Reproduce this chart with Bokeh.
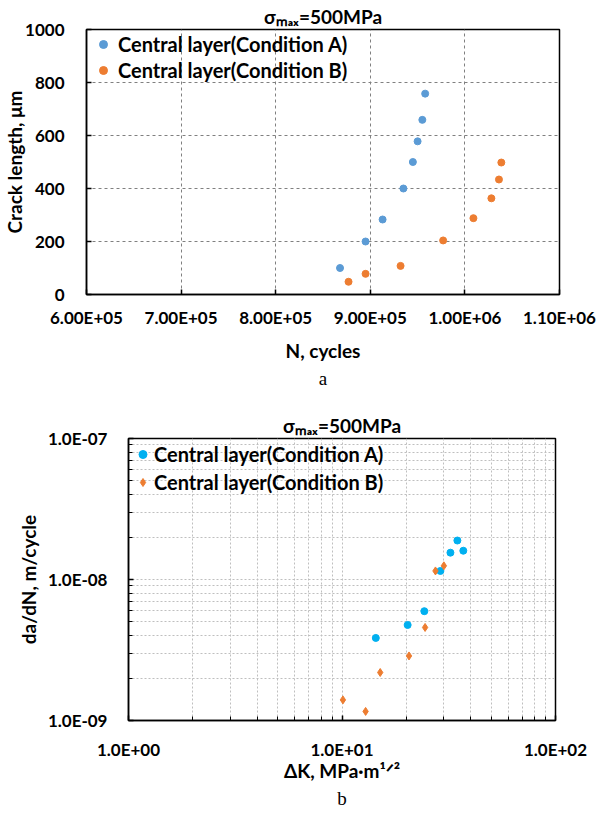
from bokeh.plotting import figure
from bokeh.models import Title, FixedTicker, CustomJSTickFormatter, Range1d
from bokeh.embed import file_html
from bokeh.resources import INLINE

FONT = "Lato"

# ---------------- data (chart a) ----------------
N_A = [8.68e5, 8.95e5, 9.13e5, 9.35e5, 9.45e5, 9.50e5, 9.55e5, 9.58e5]
CRACK_A = [100, 200, 283, 400, 500, 578, 659, 758]
N_B = [8.77e5, 8.95e5, 9.32e5, 9.77e5, 1.009e6, 1.028e6, 1.036e6, 1.0385e6]
CRACK_B = [48, 78, 108, 204, 288, 363, 434, 498]
X_TICKS_A = [6e5, 7e5, 8e5, 9e5, 1e6, 1.1e6]
X_LABELS_A = ["6.00E+05", "7.00E+05", "8.00E+05", "9.00E+05", "1.00E+06", "1.10E+06"]
Y_TICKS_A = [0, 200, 400, 600, 800, 1000]
Y_LABELS_A = ["0", "200", "400", "600", "800", "1000"]

# ---------------- data (chart b) ----------------
DK_A = [14.4, 20.3, 24.3, 28.9, 32.2, 34.7, 37.0]
DADN_A = [3.85e-9, 4.76e-9, 5.96e-9, 1.15e-8, 1.55e-8, 1.89e-8, 1.60e-8]
DK_B = [10.1, 12.9, 15.1, 20.6, 24.5, 27.4, 30.0]
DADN_B = [1.40e-9, 1.16e-9, 2.19e-9, 2.87e-9, 4.57e-9, 1.15e-8, 1.25e-8]
X_TICKS_B = [1.0, 10.0, 100.0]
X_LABELS_B = ["1.0E+00", "1.0E+01", "1.0E+02"]
X_MINOR_B = [2, 3, 4, 5, 6, 7, 8, 9, 20, 30, 40, 50, 60, 70, 80, 90]
Y_TICKS_B = [1e-9, 1e-8, 1e-7]
Y_LABELS_B = ["1.0E-09", "1.0E-08", "1.0E-07"]
Y_MINOR_B = [2e-9, 3e-9, 4e-9, 5e-9, 6e-9, 7e-9, 8e-9, 9e-9,
             2e-8, 3e-8, 4e-8, 5e-8, 6e-8, 7e-8, 8e-8, 9e-8]

LEGEND_A = "Central layer(Condition A)"
LEGEND_B = "Central layer(Condition B)"
TITLE = "σₘₐₓ=500MPa"

BLUE_A = "#5B9BD5"
BLUE_B = "#00B0F0"
ORANGE = "#ED7D31"

FMT_CODE = """
const i = tvals.findIndex(t => Math.abs(t - tick) <= 1e-6 * Math.max(Math.abs(t), 1e-30));
return i >= 0 ? tlabels[i] : "";
"""


def fmt(tv, tl):
    return CustomJSTickFormatter(args=dict(tvals=tv, tlabels=tl), code=FMT_CODE)


def style_axes(p, tick_size, label_size):
    for ax in (p.xaxis[0], p.yaxis[0]):
        ax.axis_line_color = "black"
        ax.axis_line_width = 1.5
        ax.major_tick_in = 5
        ax.major_tick_out = 0
        ax.major_tick_line_color = "black"
        ax.major_tick_line_width = 1.5
        ax.minor_tick_in = 4
        ax.minor_tick_out = 0
        ax.minor_tick_line_color = "black"
        ax.major_label_text_font = FONT
        ax.major_label_text_font_style = "bold"
        ax.major_label_text_font_size = f"{tick_size}px"
        ax.major_label_text_color = "black"
        ax.axis_label_text_font = FONT
        ax.axis_label_text_font_style = "bold"
        ax.axis_label_text_font_size = f"{label_size}px"
        ax.axis_label_text_color = "black"
    p.outline_line_color = "black"
    p.outline_line_width = 1.5
    p.outline_line_alpha = 1.0
    p.background_fill_color = "white"
    p.border_fill_color = "white"


def style_title(p, standoff):
    p.title.text = TITLE
    p.title.align = "center"
    p.title.text_font = FONT
    p.title.text_font_style = "bold"
    p.title.text_font_size = "19px"
    p.title.text_color = "black"
    p.title.standoff = standoff
    p.title.offset = 0


def add_caption(p, text, standoff):
    p.add_layout(Title(text=text, align="center", text_font="Liberation Serif",
                       text_font_style="normal", text_font_size="19px",
                       text_color="black", standoff=standoff), "below")


def style_legend(p, size, pad, gw, spacing):
    lg = p.legend[0]
    lg.location = "top_left"
    lg.margin = 0
    lg.padding = pad
    lg.glyph_width = gw
    lg.glyph_height = 20
    lg.label_height = 20
    lg.label_standoff = 1
    lg.spacing = spacing
    lg.label_text_font = FONT
    lg.label_text_font_style = "bold"
    lg.label_text_font_size = f"{size}px"
    lg.label_text_color = "black"
    lg.background_fill_alpha = 0
    lg.border_line_alpha = 0


# ================= chart a =================
pa = figure(width=600, height=405, x_range=Range1d(6e5, 1.1e6), y_range=Range1d(0, 1000),
            output_backend="svg", toolbar_location=None,
            min_border_left=85, min_border_right=41, min_border_top=29, min_border_bottom=111)
style_title(pa, 3)
pa.xaxis.ticker = FixedTicker(ticks=X_TICKS_A)
pa.yaxis.ticker = FixedTicker(ticks=Y_TICKS_A)
pa.xaxis.formatter = fmt(X_TICKS_A, X_LABELS_A)
pa.yaxis.formatter = fmt(Y_TICKS_A, Y_LABELS_A)
style_axes(pa, 17, 19)
pa.xaxis.axis_label = "N, cycles"
pa.yaxis.axis_label = "Crack length, μm"
pa.xaxis.major_label_standoff = 12
pa.yaxis.major_label_standoff = 22
pa.xaxis.axis_label_standoff = 8
pa.yaxis.axis_label_standoff = -4
for g in (pa.xgrid[0], pa.ygrid[0]):
    g.grid_line_color = "#808080"
    g.grid_line_dash = "3 3"
    g.grid_line_width = 1

pa.scatter(N_A, CRACK_A, size=7, color=BLUE_A, legend_label=LEGEND_A)
pa.scatter(N_B, CRACK_B, size=7, color=ORANGE, legend_label=LEGEND_B)
style_legend(pa, 20, 3, 28, 2)
add_caption(pa, "a", 3)

# ================= chart b =================
pb = figure(width=600, height=405, x_axis_type="log", y_axis_type="log",
            x_range=Range1d(1, 100), y_range=Range1d(1e-9, 1e-7),
            output_backend="svg", toolbar_location=None,
            min_border_left=128, min_border_right=45, min_border_top=33, min_border_bottom=90)
style_title(pb, 3)
pb.xaxis.ticker = FixedTicker(ticks=X_TICKS_B, minor_ticks=X_MINOR_B)
pb.yaxis.ticker = FixedTicker(ticks=Y_TICKS_B, minor_ticks=Y_MINOR_B)
pb.xaxis.formatter = fmt(X_TICKS_B, X_LABELS_B)
pb.yaxis.formatter = fmt(Y_TICKS_B, Y_LABELS_B)
style_axes(pb, 17, 19)
pb.xaxis.axis_label = "ΔK, MPa·m¹ᐟ²"
pb.yaxis.axis_label = "da/dN, m/cycle"
pb.xaxis.major_label_standoff = 18
pb.yaxis.major_label_standoff = 21
pb.xaxis.axis_label_standoff = -4
pb.yaxis.axis_label_standoff = 5
for g in (pb.xgrid[0], pb.ygrid[0]):
    g.grid_line_color = "#bfbfbf"
    g.grid_line_dash = "2 2"
    g.grid_line_width = 1
    g.minor_grid_line_color = "#bfbfbf"
    g.minor_grid_line_dash = "2 2"
    g.minor_grid_line_width = 1

pb.scatter(DK_A, DADN_A, size=7, color=BLUE_B, legend_label=LEGEND_A)
pb.scatter(DK_B, DADN_B, size=8, marker="diamond", color=ORANGE, legend_label=LEGEND_B)
style_legend(pb, 20, 4, 21, 4)
add_caption(pb, "b", 2)

open("out.html", "w").write(file_html([pa, pb], INLINE))
